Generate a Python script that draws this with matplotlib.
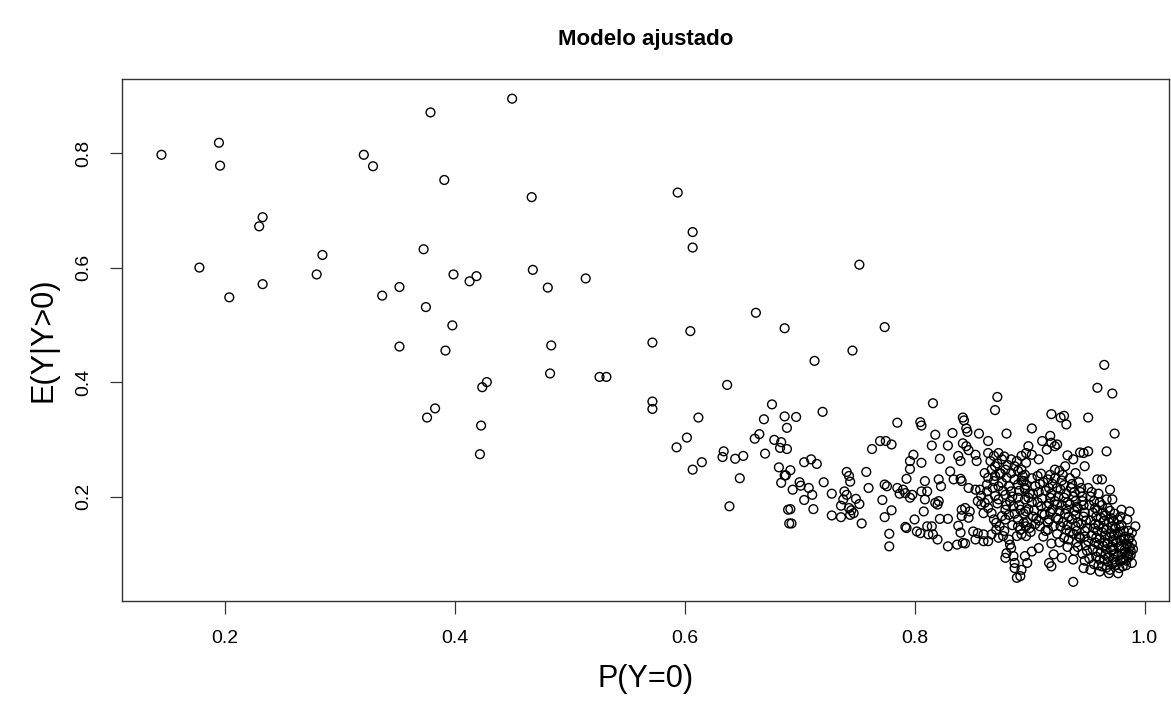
import matplotlib
matplotlib.use("Agg")
import matplotlib.pyplot as plt

plt.rcParams["font.family"] = ["Liberation Sans", "DejaVu Sans"]

# fitted values: (P(Y=0), E(Y|Y>0))
left_pts = [
    (0.145, 0.797), (0.178, 0.600), (0.195, 0.818), (0.196, 0.778), (0.204, 0.548),
    (0.230, 0.672), (0.233, 0.688), (0.233, 0.571), (0.280, 0.588), (0.285, 0.622),
    (0.321, 0.797), (0.329, 0.777), (0.337, 0.551), (0.352, 0.566), (0.352, 0.462),
    (0.373, 0.632), (0.375, 0.531), (0.376, 0.338), (0.379, 0.871), (0.383, 0.354),
    (0.391, 0.753), (0.392, 0.455), (0.398, 0.499), (0.399, 0.588), (0.413, 0.576),
    (0.419, 0.585), (0.422, 0.274), (0.423, 0.324), (0.424, 0.391), (0.428, 0.400),
    (0.450, 0.895), (0.467, 0.723), (0.468, 0.596), (0.481, 0.565), (0.484, 0.464),
    (0.483, 0.415), (0.514, 0.581), (0.526, 0.409), (0.532, 0.409),
]

middle_pts = [
    (0.594, 0.731), (0.607, 0.662), (0.607, 0.635), (0.662, 0.521), (0.687, 0.494),
    (0.605, 0.489), (0.572, 0.469), (0.637, 0.395), (0.572, 0.366), (0.572, 0.353),
    (0.676, 0.361), (0.687, 0.340), (0.612, 0.338), (0.669, 0.335), (0.689, 0.320),
    (0.602, 0.303), (0.665, 0.309), (0.661, 0.301), (0.593, 0.286), (0.678, 0.299),
    (0.684, 0.295), (0.683, 0.285), (0.689, 0.283), (0.670, 0.275), (0.634, 0.279),
    (0.633, 0.269), (0.644, 0.266), (0.651, 0.271), (0.615, 0.260), (0.607, 0.247),
    (0.682, 0.251), (0.687, 0.237), (0.684, 0.224), (0.648, 0.232), (0.690, 0.177),
    (0.691, 0.153), (0.639, 0.183),
    (0.752, 0.605), (0.774, 0.496), (0.746, 0.455), (0.713, 0.437), (0.697, 0.339),
    (0.720, 0.348), (0.785, 0.329),
    (0.770, 0.297), (0.775, 0.297), (0.780, 0.291), (0.763, 0.283), (0.704, 0.260),
    (0.710, 0.265), (0.715, 0.257), (0.692, 0.246), (0.688, 0.237), (0.741, 0.243),
    (0.743, 0.236), (0.744, 0.226), (0.758, 0.243), (0.721, 0.225), (0.700, 0.225),
    (0.701, 0.219), (0.694, 0.212), (0.708, 0.215), (0.711, 0.203), (0.704, 0.194),
    (0.712, 0.178), (0.692, 0.178), (0.693, 0.153), (0.728, 0.205), (0.739, 0.209),
    (0.741, 0.203), (0.738, 0.195), (0.749, 0.196), (0.752, 0.187), (0.736, 0.184),
    (0.743, 0.180), (0.745, 0.176), (0.747, 0.171), (0.744, 0.168), (0.728, 0.167),
    (0.736, 0.164), (0.754, 0.153), (0.760, 0.215), (0.772, 0.194), (0.774, 0.221),
    (0.776, 0.218), (0.780, 0.176), (0.774, 0.164), (0.778, 0.135), (0.778, 0.113),
    (0.785, 0.215), (0.790, 0.212), (0.792, 0.206), (0.787, 0.205), (0.792, 0.147),
    (0.793, 0.231),
]

cluster_pts = [
    (0.816, 0.363), (0.872, 0.374), (0.870, 0.351), (0.842, 0.338), (0.805, 0.330),
    (0.806, 0.324), (0.845, 0.319),
    (0.843, 0.333), (0.818, 0.308), (0.833, 0.311), (0.846, 0.313), (0.856, 0.310),
    (0.864, 0.297), (0.880, 0.310), (0.815, 0.289), (0.829, 0.289), (0.842, 0.293),
    (0.845, 0.288), (0.847, 0.281), (0.853, 0.273), (0.854, 0.262), (0.838, 0.271),
    (0.840, 0.262), (0.822, 0.266), (0.799, 0.273), (0.796, 0.262), (0.806, 0.259),
    (0.796, 0.248), (0.796, 0.198), (0.798, 0.203), (0.809, 0.227), (0.821, 0.230),
    (0.823, 0.218), (0.831, 0.244), (0.834, 0.230), (0.840, 0.231), (0.841, 0.227),
    (0.847, 0.215), (0.853, 0.212), (0.806, 0.209), (0.811, 0.209), (0.809, 0.195),
    (0.818, 0.189), (0.820, 0.186), (0.821, 0.192), (0.808, 0.174), (0.800, 0.160),
    (0.793, 0.145), (0.802, 0.139), (0.805, 0.136), (0.811, 0.148), (0.815, 0.148),
    (0.812, 0.134), (0.816, 0.134), (0.820, 0.125), (0.822, 0.161), (0.829, 0.161),
    (0.838, 0.149), (0.841, 0.177), (0.844, 0.180), (0.848, 0.174), (0.841, 0.166),
    (0.847, 0.163), (0.840, 0.137), (0.842, 0.119), (0.837, 0.116), (0.829, 0.113),
    (0.844, 0.118), (0.851, 0.139), (0.855, 0.136), (0.860, 0.134), (0.853, 0.125),
    (0.860, 0.122), (0.864, 0.122), (0.867, 0.134), (0.855, 0.192), (0.858, 0.186),
    (0.861, 0.189), (0.864, 0.180), (0.860, 0.171), (0.867, 0.171), (0.864, 0.195),
    (0.870, 0.201), (0.869, 0.160), (0.871, 0.154), (0.874, 0.148), (0.871, 0.142),
    (0.879, 0.160), (0.876, 0.166), (0.873, 0.128), (0.877, 0.131), (0.882, 0.125),
    (0.883, 0.116), (0.884, 0.110), (0.880, 0.101), (0.879, 0.093), (0.886, 0.096),
    (0.887, 0.084), (0.889, 0.058), (0.887, 0.075),
    (0.864, 0.276), (0.869, 0.271), (0.873, 0.276), (0.876, 0.265), (0.870, 0.253),
    (0.874, 0.241), (0.880, 0.233), (0.884, 0.241), (0.887, 0.253), (0.893, 0.247),
    (0.896, 0.238), (0.895, 0.227), (0.890, 0.221), (0.896, 0.215), (0.884, 0.209),
    (0.890, 0.198), (0.896, 0.195), (0.886, 0.183), (0.892, 0.177), (0.897, 0.174),
    (0.879, 0.177), (0.883, 0.192), (0.873, 0.218), (0.869, 0.227), (0.864, 0.233),
    (0.861, 0.241), (0.870, 0.236), (0.876, 0.224), (0.882, 0.218), (0.887, 0.230),
    (0.879, 0.247), (0.884, 0.265), (0.893, 0.271), (0.897, 0.276), (0.897, 0.259),
    (0.863, 0.209), (0.858, 0.201), (0.857, 0.212), (0.863, 0.221), (0.867, 0.247),
    (0.873, 0.195), (0.879, 0.203), (0.882, 0.168), (0.890, 0.160), (0.895, 0.154),
    (0.897, 0.148), (0.890, 0.148), (0.893, 0.134), (0.897, 0.131), (0.889, 0.131),
    (0.866, 0.262), (0.872, 0.258), (0.878, 0.270), (0.881, 0.255), (0.889, 0.262),
    (0.875, 0.240), (0.868, 0.215), (0.877, 0.210), (0.885, 0.200), (0.891, 0.210),
    (0.872, 0.188), (0.880, 0.185), (0.887, 0.170), (0.878, 0.140), (0.885, 0.150),
    (0.965, 0.430), (0.959, 0.390), (0.972, 0.380), (0.919, 0.344), (0.927, 0.338),
    (0.930, 0.341), (0.932, 0.326), (0.951, 0.338), (0.902, 0.319),
    (0.918, 0.306), (0.919, 0.294), (0.922, 0.288), (0.924, 0.291), (0.974, 0.310),
    (0.967, 0.279), (0.944, 0.277), (0.947, 0.276), (0.951, 0.279), (0.933, 0.272),
    (0.938, 0.265), (0.948, 0.253), (0.931, 0.253), (0.940, 0.241), (0.922, 0.247),
    (0.908, 0.265), (0.902, 0.273), (0.899, 0.288), (0.911, 0.297), (0.915, 0.282),
    (0.959, 0.230), (0.963, 0.230), (0.970, 0.212), (0.972, 0.195), (0.980, 0.177),
    (0.987, 0.174), (0.992, 0.148), (0.989, 0.137), (0.986, 0.101), (0.989, 0.084),
    (0.977, 0.066), (0.969, 0.066), (0.961, 0.069), (0.953, 0.072), (0.947, 0.075),
    (0.938, 0.051), (0.938, 0.090), (0.928, 0.093), (0.919, 0.078), (0.917, 0.084),
    (0.921, 0.099), (0.908, 0.110), (0.902, 0.104), (0.896, 0.096), (0.898, 0.084),
    (0.892, 0.061), (0.893, 0.072),
]

# the dark core of the cloud
core_pts = [
    (0.890, 0.245), (0.893, 0.228), (0.896, 0.212), (0.899, 0.198), (0.891, 0.185),
    (0.895, 0.170), (0.898, 0.155), (0.892, 0.142), (0.902, 0.232), (0.905, 0.218),
    (0.903, 0.205), (0.907, 0.190), (0.904, 0.176), (0.906, 0.162), (0.909, 0.148),
    (0.901, 0.138), (0.910, 0.240), (0.912, 0.225), (0.914, 0.210), (0.911, 0.197),
    (0.915, 0.183), (0.913, 0.168), (0.916, 0.155), (0.912, 0.130), (0.918, 0.238),
    (0.920, 0.222), (0.919, 0.205), (0.922, 0.192), (0.920, 0.178), (0.923, 0.163),
    (0.921, 0.148), (0.924, 0.135), (0.919, 0.118),
    (0.926, 0.245), (0.928, 0.228), (0.927, 0.212), (0.930, 0.198), (0.928, 0.185),
    (0.931, 0.170), (0.929, 0.155), (0.932, 0.142), (0.930, 0.128), (0.933, 0.112),
    (0.935, 0.232), (0.936, 0.215), (0.938, 0.200), (0.935, 0.186), (0.939, 0.175),
    (0.937, 0.160), (0.940, 0.148), (0.938, 0.135), (0.941, 0.120), (0.939, 0.105),
    (0.943, 0.225), (0.944, 0.208), (0.946, 0.192), (0.942, 0.180), (0.947, 0.165),
    (0.945, 0.152), (0.948, 0.140), (0.944, 0.128), (0.949, 0.115), (0.946, 0.100),
    (0.948, 0.088),
    (0.951, 0.215), (0.953, 0.200), (0.952, 0.185), (0.955, 0.172), (0.953, 0.158),
    (0.956, 0.145), (0.954, 0.132), (0.957, 0.120), (0.955, 0.108), (0.958, 0.095),
    (0.956, 0.082), (0.960, 0.205), (0.961, 0.190), (0.959, 0.176), (0.962, 0.163),
    (0.960, 0.150), (0.963, 0.138), (0.961, 0.126), (0.964, 0.114), (0.962, 0.102),
    (0.965, 0.090), (0.963, 0.078), (0.967, 0.195), (0.968, 0.180), (0.966, 0.167),
    (0.969, 0.155), (0.967, 0.142), (0.970, 0.130), (0.968, 0.118), (0.971, 0.106),
    (0.969, 0.094), (0.972, 0.082), (0.970, 0.072), (0.974, 0.170), (0.973, 0.158),
    (0.975, 0.145), (0.974, 0.132), (0.976, 0.120), (0.973, 0.108), (0.977, 0.097),
    (0.975, 0.086), (0.978, 0.075),
    (0.979, 0.165), (0.980, 0.150), (0.979, 0.138), (0.982, 0.126), (0.980, 0.114),
    (0.983, 0.102), (0.981, 0.090), (0.984, 0.080), (0.985, 0.160), (0.986, 0.140),
    (0.987, 0.128), (0.985, 0.116), (0.988, 0.105), (0.986, 0.094), (0.989, 0.118),
    (0.990, 0.108),
    (0.894, 0.236), (0.897, 0.220), (0.900, 0.205), (0.902, 0.190), (0.899, 0.178),
    (0.903, 0.165), (0.905, 0.152), (0.900, 0.145), (0.907, 0.236), (0.909, 0.222),
    (0.908, 0.208), (0.910, 0.183), (0.911, 0.170), (0.908, 0.158), (0.914, 0.140),
    (0.916, 0.230), (0.917, 0.215), (0.918, 0.198), (0.917, 0.188), (0.918, 0.172),
    (0.917, 0.160), (0.916, 0.142),
    (0.922, 0.232), (0.924, 0.215), (0.925, 0.200), (0.924, 0.186), (0.926, 0.175),
    (0.925, 0.160), (0.927, 0.148), (0.926, 0.120), (0.929, 0.238), (0.930, 0.220),
    (0.932, 0.205), (0.933, 0.190), (0.932, 0.178), (0.934, 0.165), (0.933, 0.150),
    (0.935, 0.138), (0.934, 0.125), (0.937, 0.222), (0.939, 0.208), (0.940, 0.192),
    (0.941, 0.182), (0.940, 0.168), (0.942, 0.155), (0.941, 0.140), (0.943, 0.130),
    (0.942, 0.112), (0.945, 0.215), (0.946, 0.200), (0.947, 0.185), (0.948, 0.172),
    (0.949, 0.158), (0.950, 0.145), (0.948, 0.130), (0.951, 0.122), (0.950, 0.105),
    (0.952, 0.092),
    (0.954, 0.208), (0.956, 0.192), (0.957, 0.180), (0.958, 0.165), (0.957, 0.152),
    (0.959, 0.140), (0.958, 0.128), (0.960, 0.116), (0.959, 0.104), (0.961, 0.090),
    (0.960, 0.080), (0.963, 0.185), (0.964, 0.172), (0.965, 0.158), (0.964, 0.145),
    (0.966, 0.132), (0.965, 0.120), (0.967, 0.108), (0.966, 0.098), (0.968, 0.086),
    (0.967, 0.076), (0.970, 0.175), (0.971, 0.162), (0.972, 0.148), (0.971, 0.136),
    (0.973, 0.124), (0.972, 0.112), (0.974, 0.100), (0.973, 0.090), (0.975, 0.080),
    (0.977, 0.160), (0.978, 0.148), (0.977, 0.135), (0.979, 0.124), (0.978, 0.112),
    (0.980, 0.100), (0.979, 0.088), (0.981, 0.078), (0.982, 0.140), (0.983, 0.130),
    (0.984, 0.118), (0.983, 0.108), (0.985, 0.098), (0.984, 0.088), (0.987, 0.112),
    (0.986, 0.125), (0.988, 0.098),
]

x_ticks = [0.2, 0.4, 0.6, 0.8, 1.0]
y_ticks = [0.2, 0.4, 0.6, 0.8]

all_pts = left_pts + middle_pts + cluster_pts + core_pts
px = [p[0] for p in all_pts]
py = [p[1] for p in all_pts]

fig = plt.figure(figsize=(11.71, 7.15), dpi=100)
ax = fig.add_axes([0.104, 0.159, 0.894, 0.731])

ax.scatter(px, py, s=40, facecolors="none", edgecolors="black", linewidths=1.0)

ax.set_xlim(0.1105, 1.021)
ax.set_ylim(0.017, 0.930)
ax.set_xticks(x_ticks)
ax.set_xticklabels(["0.2", "0.4", "0.6", "0.8", "1.0"])
ax.set_yticks(y_ticks)
ax.set_yticklabels(["0.2", "0.4", "0.6", "0.8"], rotation=90, va="center")
ax.tick_params(axis="both", length=9, width=0.9, labelsize=14, pad=12, color="#333333")

for s in ax.spines.values():
    s.set_linewidth(1.0)
    s.set_color("#333333")

ax.set_title("Modelo ajustado", fontsize=16, fontweight="bold", pad=24)
ax.set_xlabel("P(Y=0)", fontsize=22, labelpad=12)
ax.set_ylabel("E(Y|Y>0)", fontsize=22, labelpad=12)

fig.savefig("out.png", dpi=100)
